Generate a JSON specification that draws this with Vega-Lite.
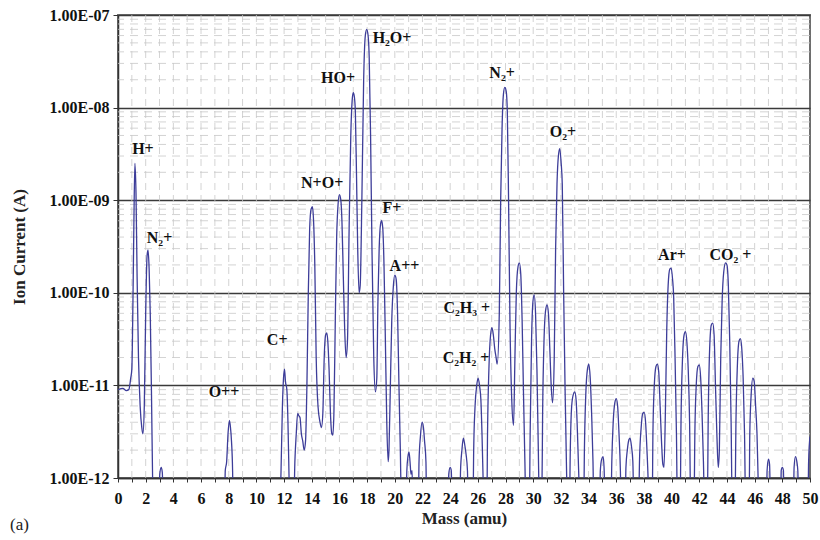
{
  "$schema": "https://vega.github.io/schema/vega-lite/v6.json",
  "width": 692,
  "height": 463,
  "autosize": {"type": "none"},
  "padding": {"left": 118, "top": 15, "right": 10, "bottom": 62},
  "background": "white",
  "config": {
    "view": {"stroke": "#6e6e6e", "strokeWidth": 2},
    "font": "Liberation Serif",
    "axis": {"labelOverlap": false, "labelFlush": false}
  },
  "title": {
    "text": "(a)",
    "orient": "bottom",
    "anchor": "start",
    "frame": "bounds",
    "font": "Liberation Serif",
    "fontSize": 17,
    "fontWeight": "normal",
    "color": "#222222",
    "offset": -9
  },
  "datasets": {
    "vgrid": [
      {"m": 1}, {"m": 2}, {"m": 3}, {"m": 4}, {"m": 5}, {"m": 6}, {"m": 7}, {"m": 8}, {"m": 9}, {"m": 10},
      {"m": 11}, {"m": 12}, {"m": 13}, {"m": 14}, {"m": 15}, {"m": 16}, {"m": 17}, {"m": 18}, {"m": 19}, {"m": 20},
      {"m": 21}, {"m": 22}, {"m": 23}, {"m": 24}, {"m": 25}, {"m": 26}, {"m": 27}, {"m": 28}, {"m": 29}, {"m": 30},
      {"m": 31}, {"m": 32}, {"m": 33}, {"m": 34}, {"m": 35}, {"m": 36}, {"m": 37}, {"m": 38}, {"m": 39}, {"m": 40},
      {"m": 41}, {"m": 42}, {"m": 43}, {"m": 44}, {"m": 45}, {"m": 46}, {"m": 47}, {"m": 48}, {"m": 49}
    ],
    "hgrid": [
      {"i": 2e-12}, {"i": 3e-12}, {"i": 4e-12}, {"i": 5e-12}, {"i": 6e-12}, {"i": 7e-12}, {"i": 8e-12}, {"i": 9e-12},
      {"i": 2e-11}, {"i": 3e-11}, {"i": 4e-11}, {"i": 5e-11}, {"i": 6e-11}, {"i": 7e-11}, {"i": 8e-11}, {"i": 9e-11},
      {"i": 2e-10}, {"i": 3e-10}, {"i": 4e-10}, {"i": 5e-10}, {"i": 6e-10}, {"i": 7e-10}, {"i": 8e-10}, {"i": 9e-10},
      {"i": 2e-9}, {"i": 3e-9}, {"i": 4e-9}, {"i": 5e-9}, {"i": 6e-9}, {"i": 7e-9}, {"i": 8e-9}, {"i": 9e-9},
      {"i": 2e-8}, {"i": 3e-8}, {"i": 4e-8}, {"i": 5e-8}, {"i": 6e-8}, {"i": 7e-8}, {"i": 8e-8}, {"i": 9e-8}
    ],
    "labels": [
      {"m": 1.8, "i": 3.6e-9, "t": "H+"},
      {"m": 3.0, "i": 3.9e-10, "t": "N₂+"},
      {"m": 7.66, "i": 8.5e-12, "t": "O++"},
      {"m": 11.5, "i": 3.1e-11, "t": "C+"},
      {"m": 14.75, "i": 1.55e-9, "t": "N+O+"},
      {"m": 15.9, "i": 2.1e-8, "t": "HO+"},
      {"m": 19.8, "i": 5.6e-8, "t": "H₂O+"},
      {"m": 19.8, "i": 8.3e-10, "t": "F+"},
      {"m": 20.7, "i": 1.95e-10, "t": "A++"},
      {"m": 25.2, "i": 6.9e-11, "t": "C₂H₃ +"},
      {"m": 25.15, "i": 2e-11, "t": "C₂H₂ +"},
      {"m": 27.75, "i": 2.35e-8, "t": "N₂+"},
      {"m": 32.15, "i": 5.5e-9, "t": "O₂+"},
      {"m": 40.03, "i": 2.55e-10, "t": "Ar+"},
      {"m": 44.25, "i": 2.55e-10, "t": "CO₂ +"}
    ],
    "spectrum": [
      {"m":0,"i":9e-12},{"m":0.35,"i":9.3e-12},{"m":0.6,"i":8.8e-12},{"m":0.78,"i":9e-12},{"m":0.92,"i":1.2e-11},{"m":1.0,"i":1.5e-11},{"m":1.08,"i":8e-11},{"m":1.15,"i":6e-10},{"m":1.22,"i":2.5e-9},{"m":1.3,"i":1.2e-9},{"m":1.38,"i":1.5e-10},{"m":1.48,"i":2e-11},{"m":1.6,"i":6e-12},{"m":1.72,"i":3.5e-12},{"m":1.8,"i":3e-12},{"m":1.9,"i":6e-12},{"m":2.0,"i":6e-11},{"m":2.1,"i":2.5e-10},{"m":2.17,"i":2.9e-10},{"m":2.25,"i":1.8e-10},{"m":2.33,"i":6e-11},{"m":2.42,"i":8e-12},{"m":2.5,"i":1e-12},{"m":2.55,"i":5e-13},{"m":2.95,"i":5e-13},{"m":3.02,"i":1.1e-12},{"m":3.12,"i":1.3e-12},{"m":3.2,"i":1.15e-12},{"m":3.28,"i":5e-13},
      {"m":7.7,"i":5e-13},{"m":7.75,"i":1.2e-12},{"m":7.85,"i":1.5e-12},{"m":7.95,"i":3e-12},{"m":8.05,"i":4.2e-12},{"m":8.12,"i":3.6e-12},{"m":8.2,"i":2.5e-12},{"m":8.28,"i":1.2e-12},{"m":8.32,"i":5e-13},
      {"m":11.7,"i":5e-13},{"m":11.78,"i":1.2e-12},{"m":11.88,"i":6e-12},{"m":11.96,"i":1.2e-11},{"m":12.03,"i":1.5e-11},{"m":12.1,"i":1.1e-11},{"m":12.2,"i":9e-12},{"m":12.28,"i":4e-12},{"m":12.36,"i":1e-12},{"m":12.4,"i":5e-13},
      {"m":12.7,"i":5e-13},{"m":12.78,"i":1.5e-12},{"m":12.88,"i":3e-12},{"m":12.98,"i":5e-12},{"m":13.07,"i":4.7e-12},{"m":13.15,"i":4.5e-12},{"m":13.25,"i":3e-12},{"m":13.35,"i":2.5e-12},{"m":13.45,"i":2e-12},{"m":13.55,"i":2.5e-12},
      {"m":13.65,"i":1e-11},{"m":13.75,"i":1e-10},{"m":13.85,"i":5e-10},{"m":13.95,"i":8e-10},{"m":14.05,"i":8.5e-10},{"m":14.13,"i":6e-10},{"m":14.22,"i":2e-10},{"m":14.32,"i":2e-11},{"m":14.45,"i":6e-12},{"m":14.6,"i":4e-12},{"m":14.7,"i":3.5e-12},{"m":14.8,"i":5e-12},
      {"m":14.9,"i":2e-11},{"m":15.0,"i":3.5e-11},{"m":15.08,"i":3.7e-11},{"m":15.16,"i":3e-11},{"m":15.25,"i":1.5e-11},{"m":15.35,"i":5e-12},{"m":15.45,"i":3e-12},{"m":15.52,"i":2.9e-12},{"m":15.6,"i":5e-12},
      {"m":15.7,"i":5e-11},{"m":15.8,"i":4e-10},{"m":15.9,"i":9e-10},{"m":16.0,"i":1.15e-9},{"m":16.1,"i":1e-9},{"m":16.18,"i":6e-10},{"m":16.28,"i":1.5e-10},{"m":16.38,"i":4e-11},{"m":16.48,"i":2e-11},{"m":16.58,"i":3e-11},
      {"m":16.7,"i":5e-10},{"m":16.82,"i":5e-9},{"m":16.92,"i":1.2e-8},{"m":17.0,"i":1.45e-8},{"m":17.08,"i":1.3e-8},{"m":17.15,"i":9e-9},{"m":17.23,"i":2e-9},{"m":17.32,"i":3e-10},{"m":17.42,"i":1e-10},{"m":17.5,"i":1.2e-10},
      {"m":17.62,"i":1e-9},{"m":17.75,"i":2e-8},{"m":17.87,"i":6e-8},{"m":17.97,"i":7e-8},{"m":18.07,"i":6e-8},{"m":18.15,"i":3.5e-8},{"m":18.25,"i":5e-9},{"m":18.35,"i":3e-10},{"m":18.48,"i":2e-11},{"m":18.6,"i":8.5e-12},{"m":18.7,"i":1.2e-11},
      {"m":18.78,"i":8e-11},{"m":18.87,"i":3e-10},{"m":18.97,"i":5.5e-10},{"m":19.05,"i":6e-10},{"m":19.13,"i":5e-10},{"m":19.22,"i":2e-10},{"m":19.32,"i":3e-11},{"m":19.42,"i":4e-12},{"m":19.52,"i":1.5e-12},{"m":19.58,"i":2e-12},
      {"m":19.68,"i":1e-11},{"m":19.78,"i":5e-11},{"m":19.9,"i":1.2e-10},{"m":20.0,"i":1.55e-10},{"m":20.1,"i":1.4e-10},{"m":20.2,"i":6e-11},{"m":20.3,"i":1e-11},{"m":20.4,"i":2e-12},{"m":20.48,"i":5e-13},
      {"m":20.8,"i":5e-13},{"m":20.87,"i":1.2e-12},{"m":20.95,"i":1.7e-12},{"m":21.03,"i":1.9e-12},{"m":21.1,"i":1.5e-12},{"m":21.17,"i":1.1e-12},{"m":21.25,"i":1.2e-12},{"m":21.3,"i":5e-13},
      {"m":21.7,"i":5e-13},{"m":21.75,"i":1.5e-12},{"m":21.85,"i":2.8e-12},{"m":21.97,"i":4e-12},{"m":22.07,"i":3.5e-12},{"m":22.15,"i":2.5e-12},{"m":22.25,"i":1.5e-12},{"m":22.3,"i":5e-13},
      {"m":23.85,"i":5e-13},{"m":23.9,"i":1.1e-12},{"m":24.0,"i":1.3e-12},{"m":24.08,"i":1.2e-12},{"m":24.15,"i":5e-13},
      {"m":24.7,"i":5e-13},{"m":24.75,"i":1.2e-12},{"m":24.85,"i":2e-12},{"m":24.95,"i":2.7e-12},{"m":25.05,"i":2.3e-12},{"m":25.15,"i":1.8e-12},{"m":25.25,"i":1.2e-12},{"m":25.3,"i":5e-13},
      {"m":25.65,"i":5e-13},{"m":25.7,"i":2e-12},{"m":25.8,"i":6e-12},{"m":25.92,"i":1e-11},{"m":26.02,"i":1.2e-11},{"m":26.12,"i":1e-11},{"m":26.22,"i":7e-12},{"m":26.3,"i":3e-12},{"m":26.38,"i":1e-12},{"m":26.42,"i":5e-13},
      {"m":26.65,"i":5e-13},{"m":26.7,"i":3e-12},{"m":26.8,"i":1.5e-11},{"m":26.92,"i":3.5e-11},{"m":27.02,"i":4.2e-11},{"m":27.12,"i":3.5e-11},{"m":27.22,"i":2.5e-11},{"m":27.32,"i":2e-11},{"m":27.4,"i":1.7e-11},
      {"m":27.55,"i":6e-11},{"m":27.65,"i":1e-9},{"m":27.75,"i":6e-9},{"m":27.85,"i":1.4e-8},{"m":27.95,"i":1.65e-8},{"m":28.05,"i":1.5e-8},{"m":28.13,"i":9e-9},{"m":28.22,"i":1e-9},{"m":28.32,"i":5e-11},{"m":28.45,"i":7e-12},{"m":28.58,"i":3.7e-12},
      {"m":28.68,"i":2e-11},{"m":28.78,"i":1e-10},{"m":28.9,"i":1.9e-10},{"m":29.0,"i":2.1e-10},{"m":29.1,"i":1.6e-10},{"m":29.2,"i":5e-11},{"m":29.3,"i":8e-12},{"m":29.4,"i":1.5e-12},{"m":29.47,"i":5e-13},
      {"m":29.72,"i":5e-13},{"m":29.78,"i":3e-12},{"m":29.88,"i":3e-11},{"m":29.98,"i":8e-11},{"m":30.07,"i":9.5e-11},{"m":30.17,"i":6e-11},{"m":30.27,"i":1.5e-11},{"m":30.37,"i":2e-12},{"m":30.45,"i":5e-13},
      {"m":30.62,"i":5e-13},{"m":30.68,"i":5e-12},{"m":30.78,"i":3e-11},{"m":30.9,"i":6.5e-11},{"m":31.0,"i":7.4e-11},{"m":31.1,"i":6e-11},{"m":31.2,"i":2.5e-11},{"m":31.3,"i":1e-11},{"m":31.4,"i":6.5e-12},
      {"m":31.52,"i":2e-11},{"m":31.62,"i":3e-10},{"m":31.72,"i":1.5e-9},{"m":31.82,"i":3e-9},{"m":31.92,"i":3.6e-9},{"m":32.02,"i":2.5e-9},{"m":32.1,"i":1.5e-9},{"m":32.2,"i":1e-10},{"m":32.3,"i":1e-11},{"m":32.42,"i":1e-12},{"m":32.48,"i":5e-13},
      {"m":32.62,"i":5e-13},{"m":32.68,"i":2e-12},{"m":32.78,"i":6e-12},{"m":32.9,"i":8e-12},{"m":33.0,"i":8.5e-12},{"m":33.1,"i":7e-12},{"m":33.2,"i":3e-12},{"m":33.3,"i":1e-12},{"m":33.35,"i":5e-13},
      {"m":33.65,"i":5e-13},{"m":33.7,"i":2e-12},{"m":33.8,"i":8e-12},{"m":33.92,"i":1.5e-11},{"m":34.02,"i":1.7e-11},{"m":34.12,"i":1.2e-11},{"m":34.22,"i":5e-12},{"m":34.32,"i":1.5e-12},{"m":34.38,"i":5e-13},
      {"m":34.8,"i":5e-13},{"m":34.85,"i":1.2e-12},{"m":34.95,"i":1.6e-12},{"m":35.05,"i":1.7e-12},{"m":35.12,"i":1.3e-12},{"m":35.2,"i":5e-13},
      {"m":35.62,"i":5e-13},{"m":35.68,"i":1.5e-12},{"m":35.78,"i":4e-12},{"m":35.9,"i":6.5e-12},{"m":36.0,"i":7.2e-12},{"m":36.1,"i":6e-12},{"m":36.2,"i":3e-12},{"m":36.3,"i":1.2e-12},{"m":36.35,"i":5e-13},
      {"m":36.65,"i":5e-13},{"m":36.7,"i":1.3e-12},{"m":36.8,"i":2e-12},{"m":36.92,"i":2.6e-12},{"m":37.0,"i":2.7e-12},{"m":37.1,"i":2.2e-12},{"m":37.2,"i":1.5e-12},{"m":37.28,"i":5e-13},
      {"m":37.62,"i":5e-13},{"m":37.68,"i":1.5e-12},{"m":37.8,"i":3.5e-12},{"m":37.92,"i":5e-12},{"m":38.02,"i":5.1e-12},{"m":38.12,"i":4e-12},{"m":38.22,"i":2e-12},{"m":38.3,"i":1e-12},{"m":38.35,"i":5e-13},
      {"m":38.6,"i":5e-13},{"m":38.65,"i":3e-12},{"m":38.75,"i":1e-11},{"m":38.87,"i":1.6e-11},{"m":38.97,"i":1.7e-11},{"m":39.07,"i":1.4e-11},{"m":39.17,"i":6e-12},{"m":39.27,"i":2.5e-12},{"m":39.37,"i":1.4e-12},{"m":39.45,"i":1.3e-12},
      {"m":39.55,"i":5e-12},{"m":39.65,"i":4e-11},{"m":39.75,"i":1.2e-10},{"m":39.87,"i":1.8e-10},{"m":39.97,"i":1.85e-10},{"m":40.07,"i":1.4e-10},{"m":40.15,"i":9e-11},{"m":40.25,"i":2e-11},{"m":40.35,"i":3e-12},{"m":40.42,"i":5e-13},
      {"m":40.62,"i":5e-13},{"m":40.68,"i":4e-12},{"m":40.78,"i":1.8e-11},{"m":40.9,"i":3.5e-11},{"m":41.0,"i":3.8e-11},{"m":41.1,"i":3e-11},{"m":41.2,"i":1.5e-11},{"m":41.3,"i":4e-12},{"m":41.38,"i":5e-13},
      {"m":41.62,"i":5e-13},{"m":41.68,"i":3e-12},{"m":41.78,"i":1e-11},{"m":41.9,"i":1.6e-11},{"m":42.0,"i":1.66e-11},{"m":42.1,"i":1.2e-11},{"m":42.2,"i":5e-12},{"m":42.3,"i":1.5e-12},{"m":42.38,"i":5e-13},
      {"m":42.58,"i":5e-13},{"m":42.65,"i":5e-12},{"m":42.75,"i":2.5e-11},{"m":42.87,"i":4.5e-11},{"m":42.97,"i":4.7e-11},{"m":43.07,"i":3.5e-11},{"m":43.17,"i":1e-11},{"m":43.27,"i":3e-12},{"m":43.37,"i":1.3e-12},{"m":43.45,"i":2e-12},
      {"m":43.55,"i":2e-11},{"m":43.65,"i":8e-11},{"m":43.77,"i":1.7e-10},{"m":43.9,"i":2.1e-10},{"m":44.0,"i":2e-10},{"m":44.1,"i":1.2e-10},{"m":44.2,"i":3e-11},{"m":44.3,"i":4e-12},{"m":44.38,"i":5e-13},
      {"m":44.58,"i":5e-13},{"m":44.65,"i":4e-12},{"m":44.75,"i":1.6e-11},{"m":44.87,"i":3e-11},{"m":44.97,"i":3.2e-11},{"m":45.07,"i":2.5e-11},{"m":45.17,"i":1.2e-11},{"m":45.27,"i":3e-12},{"m":45.35,"i":5e-13},
      {"m":45.6,"i":5e-13},{"m":45.65,"i":3e-12},{"m":45.75,"i":8e-12},{"m":45.87,"i":1.2e-11},{"m":45.97,"i":1.1e-11},{"m":46.07,"i":6e-12},{"m":46.17,"i":3e-12},{"m":46.25,"i":1e-12},{"m":46.3,"i":5e-13},
      {"m":46.85,"i":5e-13},{"m":46.9,"i":1.2e-12},{"m":47.0,"i":1.6e-12},{"m":47.08,"i":1.4e-12},{"m":47.15,"i":5e-13},
      {"m":47.88,"i":5e-13},{"m":47.92,"i":1.2e-12},{"m":48.0,"i":1.3e-12},{"m":48.08,"i":1.2e-12},{"m":48.12,"i":5e-13},
      {"m":48.8,"i":5e-13},{"m":48.85,"i":1.3e-12},{"m":48.95,"i":1.7e-12},{"m":49.05,"i":1.5e-12},{"m":49.12,"i":1.2e-12},{"m":49.18,"i":5e-13},
      {"m":49.85,"i":5e-13},{"m":49.9,"i":1.5e-12},{"m":50,"i":2.8e-12}
    ]
  },
  "layer": [
    {
      "data": {"name": "vgrid"},
      "mark": {"type": "rule", "color": "#c8c8c8", "strokeWidth": 0.8, "strokeDash": [7, 5]},
      "encoding": {
        "x": {
          "field": "m", "type": "quantitative",
          "scale": {"domain": [0, 50], "nice": false, "zero": false},
          "axis": {
            "title": "Mass (amu)",
            "values": [0,1,2,3,4,5,6,7,8,9,10,11,12,13,14,15,16,17,18,19,20,21,22,23,24,25,26,27,28,29,30,31,32,33,34,35,36,37,38,39,40,41,42,43,44,45,46,47,48,49,50],
            "tickCount": 60,
            "labelExpr": "datum.value % 2 == 0 ? datum.label : ''",
            "grid": false,
            "domainColor": "#333333", "domainWidth": 1.5,
            "tickColor": "#333333", "tickSize": 4, "tickWidth": 1,
            "labelFont": "Liberation Serif", "labelFontSize": 16, "labelFontWeight": "bold", "labelColor": "#111111",
            "labelPadding": 8, "labelFlush": false, "labelOverlap": false, "labelBound": false,
            "titleFont": "Liberation Serif", "titleFontSize": 17, "titleFontWeight": "bold", "titleColor": "#222222",
            "titlePadding": 4
          }
        }
      }
    },
    {
      "data": {"name": "hgrid"},
      "mark": {"type": "rule", "color": "#c8c8c8", "strokeWidth": 0.8, "strokeDash": [8, 6]},
      "encoding": {
        "y": {
          "field": "i", "type": "quantitative",
          "scale": {"type": "log", "domain": [1e-12, 1e-7], "nice": false},
          "axis": {
            "title": "Ion Current (A)",
            "values": [1e-12, 1e-11, 1e-10, 1e-9, 1e-8, 1e-7],
            "tickCount": 10,
            "labelExpr": "'1.00E-' + (round(-log(datum.value)/LN10) < 10 ? '0' : '') + round(-log(datum.value)/LN10)",
            "grid": true, "gridColor": "#3a3a3a", "gridWidth": 1.5,
            "domainColor": "#333333", "domainWidth": 1.5,
            "tickColor": "#333333", "tickSize": 5,
            "labelFont": "Liberation Serif", "labelFontSize": 16, "labelFontWeight": "bold", "labelColor": "#111111",
            "labelPadding": 4, "labelFlush": false, "labelOverlap": false,
            "titleFont": "Liberation Serif", "titleFontSize": 17, "titleFontWeight": "bold", "titleColor": "#222222",
            "titlePadding": 21
          }
        }
      }
    },
    {
      "data": {"name": "spectrum"},
      "mark": {"type": "line", "color": "#3d3d99", "strokeWidth": 1.3, "clip": true, "interpolate": "monotone"},
      "encoding": {
        "x": {"field": "m", "type": "quantitative", "title": "Mass (amu)"},
        "y": {"field": "i", "type": "quantitative", "title": "Ion Current (A)"}
      }
    },
    {
      "data": {"name": "labels"},
      "mark": {"type": "text", "font": "Liberation Serif", "fontSize": 16, "fontWeight": "bold", "color": "#111111", "align": "center", "baseline": "middle"},
      "encoding": {
        "x": {"field": "m", "type": "quantitative", "title": "Mass (amu)"},
        "y": {"field": "i", "type": "quantitative", "title": "Ion Current (A)"},
        "text": {"field": "t", "type": "nominal"}
      }
    }
  ]
}
